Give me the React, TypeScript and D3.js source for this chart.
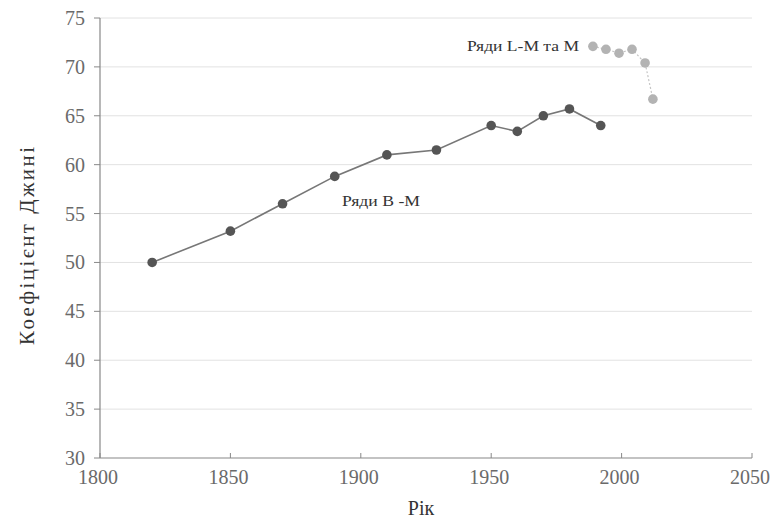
import React from "react";
import * as d3 from "d3";

const bmYears = [1820, 1850, 1870, 1890, 1910, 1929, 1950, 1960, 1970, 1980, 1992];
const bmValues = [50.0, 53.2, 56.0, 58.8, 61.0, 61.5, 64.0, 63.4, 65.0, 65.7, 64.0];
const lmYears = [1989, 1994, 1999, 2004, 2009, 2012];
const lmValues = [72.1, 71.8, 71.4, 71.8, 70.4, 66.7];
const xTicks = [1800, 1850, 1900, 1950, 2000, 2050];
const yTicks = [30, 35, 40, 45, 50, 55, 60, 65, 70, 75];
const bmLabel = "Ряди B -M";
const lmLabel = "Ряди L-M та M";
const xTitle = "Рік";
const yTitle = "Коефіцієнт Джині";

export default function App() {
  const W = 779, H = 520;
  const x = d3.scaleLinear().domain([1800, 2050]).range([100, 752]);
  const y = d3.scaleLinear().domain([30, 75]).range([458, 18]);
  const line = d3.line<[number, number]>().x(d => x(d[0])).y(d => y(d[1]));
  const bm: [number, number][] = bmYears.map((yr, i) => [yr, bmValues[i]]);
  const lm: [number, number][] = lmYears.map((yr, i) => [yr, lmValues[i]]);
  const tickFont = "'Liberation Serif', 'DejaVu Serif', serif";
  return (
    <div style={{ position: "absolute", left: 0, top: 0 }}>
      <svg width={W} height={H} style={{ display: "block", background: "#fff" }}>
        {yTicks.map(t => (
          <g key={t}>
            {t > 30 && (
              <line x1={x(1800)} x2={x(2050)} y1={y(t)} y2={y(t)} stroke="#e2e2e2" strokeWidth={1} />
            )}
            <line x1={x(1800) - 6} x2={x(1800)} y1={y(t)} y2={y(t)} stroke="#888" strokeWidth={1} />
            <text x={85} y={y(t)} dy="0.35em" textAnchor="end" fontSize={20} fill="#6a6a6a" fontFamily={tickFont}>{t}</text>
          </g>
        ))}
        <line x1={x(1800)} x2={x(1800)} y1={y(75)} y2={y(30)} stroke="#888" strokeWidth={1.2} />
        <line x1={x(1800)} x2={x(2050)} y1={y(30)} y2={y(30)} stroke="#888" strokeWidth={1.2} />
        {xTicks.map(t => (
          <g key={t}>
            <line x1={x(t)} x2={x(t)} y1={y(30)} y2={y(30) - 5} stroke="#888" strokeWidth={1} />
            <text x={x(t) - 2} y={477} dy="0.35em" textAnchor="middle" fontSize={20} fill="#6a6a6a" fontFamily={tickFont}>{t}</text>
          </g>
        ))}
        <text x={421} y={508} dy="0.35em" textAnchor="middle" fontSize={20} fill="#333" fontFamily={tickFont}>{xTitle}</text>
        <text transform={`translate(27,${246}) rotate(-90)`} textAnchor="middle" dy="0.35em" fontSize={21} fill="#333" fontFamily={tickFont} textLength={198} lengthAdjust="spacing">{yTitle}</text>

        <path d={line(lm) || ""} fill="none" stroke="#c4c4c4" strokeWidth={1.2} strokeDasharray="2,2" />
        {lm.map((d, i) => (
          <circle key={i} cx={x(d[0])} cy={y(d[1])} r={4.8} fill="#b3b3b3" />
        ))}
        <path d={line(bm) || ""} fill="none" stroke="#777" strokeWidth={1.6} />
        {bm.map((d, i) => (
          <circle key={i} cx={x(d[0])} cy={y(d[1])} r={4.8} fill="#555" />
        ))}
        <text x={467} y={46} dy="0.35em" fontSize={14} fill="#333" fontFamily={tickFont} textLength={112} lengthAdjust="spacingAndGlyphs">{lmLabel}</text>
        <text x={342} y={201} dy="0.35em" fontSize={14} fill="#333" fontFamily={tickFont} textLength={78} lengthAdjust="spacingAndGlyphs">{bmLabel}</text>
      </svg>
    </div>
  );
}
